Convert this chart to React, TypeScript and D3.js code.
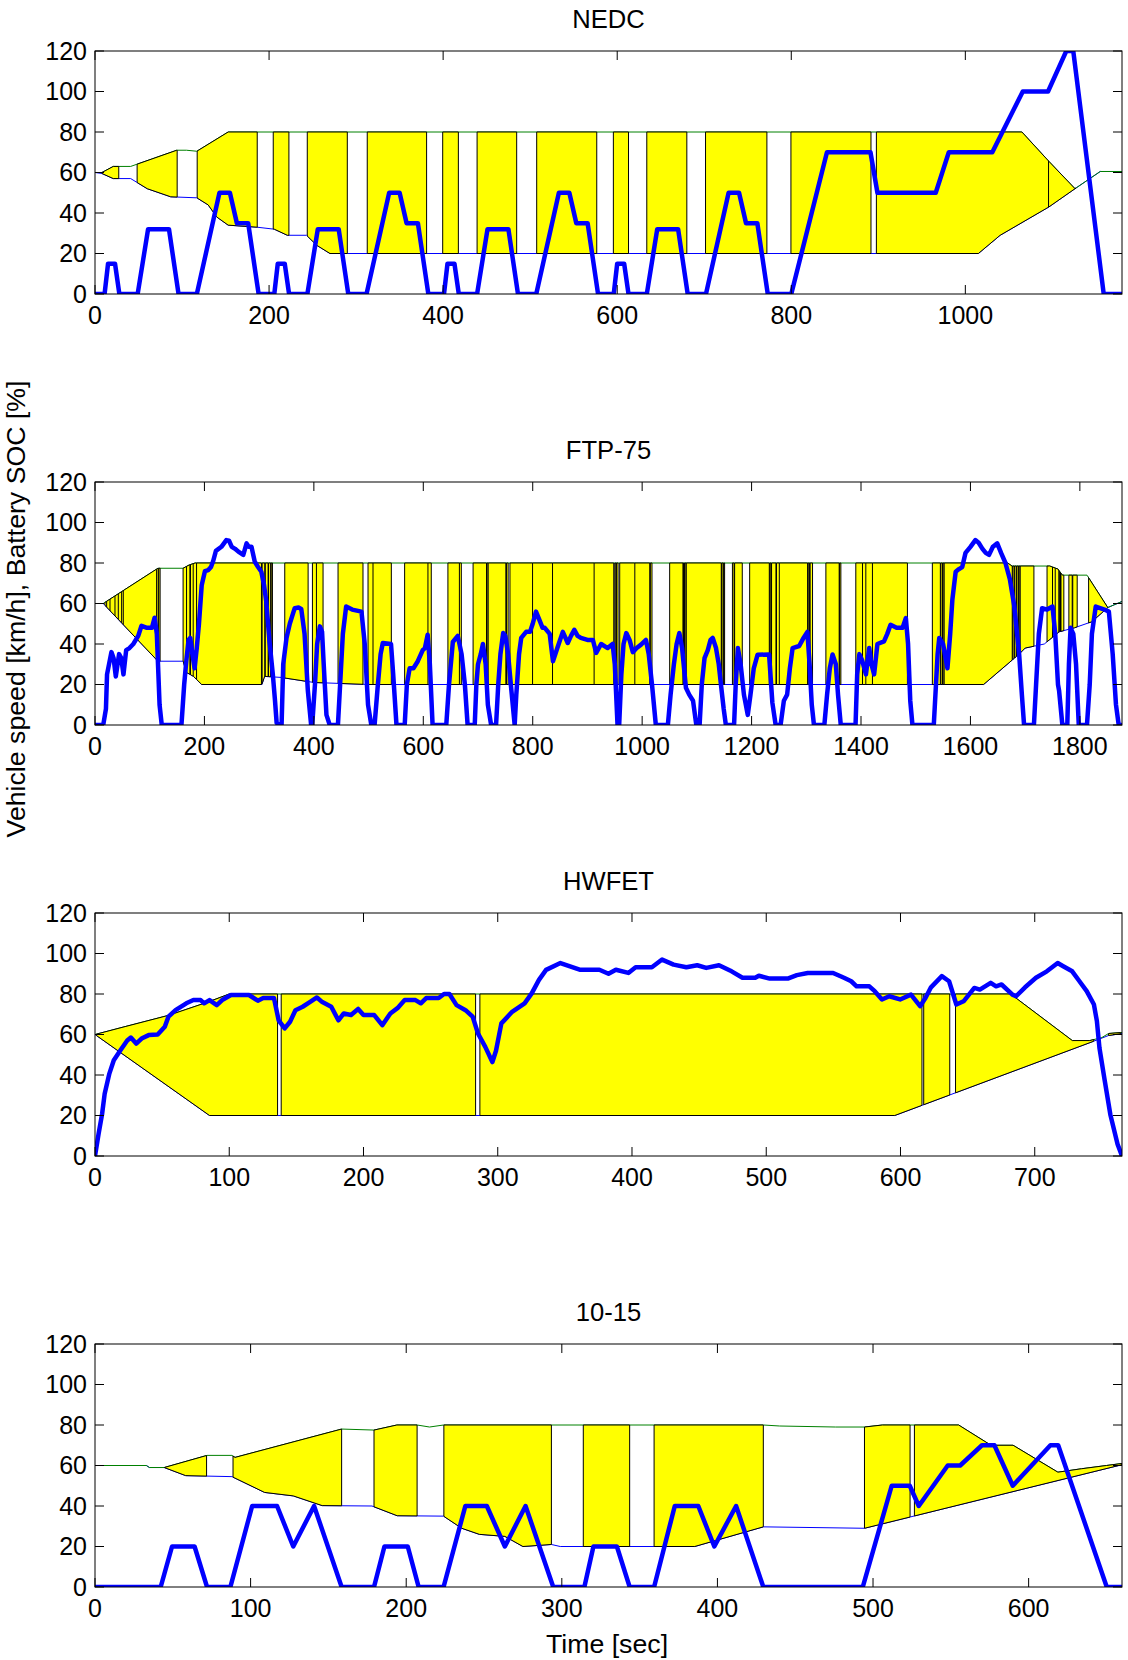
import React from "react";
import * as d3 from "d3";

type Pt = [number, number];
type Span = [number, number];

// ---- NEDC ----
const nedcSpeed: Pt[] = [
  [0, 0], [11, 0], [15, 15], [23, 15], [28, 0], [49, 0], [61, 32], [85, 32], [96, 0], [117, 0],
  [143, 50], [155, 50], [163, 35], [176, 35], [188, 0],
  [206, 0], [210, 15], [218, 15], [223, 0], [244, 0], [256, 32], [280, 32], [291, 0], [312, 0],
  [338, 50], [350, 50], [358, 35], [371, 35], [383, 0],
  [401, 0], [405, 15], [413, 15], [418, 0], [439, 0], [451, 32], [475, 32], [486, 0], [507, 0],
  [533, 50], [545, 50], [553, 35], [566, 35], [578, 0],
  [596, 0], [600, 15], [608, 15], [613, 0], [634, 0], [646, 32], [670, 32], [681, 0], [702, 0],
  [728, 50], [740, 50], [748, 35], [761, 35], [773, 0],
  [800, 0], [841, 70], [891, 70], [899, 50], [966, 50], [981, 70], [1031, 70], [1066, 100],
  [1095, 100], [1116, 120], [1124, 120], [1159, 0], [1180, 0],
];
const nedcUpper: Pt[] = [
  [0, 60], [8, 60], [21, 63], [41, 63], [94, 71], [105, 71], [117, 70.5], [153, 80],
  [1065, 80], [1096, 65.5], [1126, 52], [1155, 60.5], [1180, 60.5],
];
const nedcLower: Pt[] = [
  [0, 60], [8, 59.5], [21, 57], [41, 57], [60, 52], [87, 48], [117, 47.5], [130, 44], [140, 38],
  [153, 34], [186, 33], [206, 32], [221, 29], [243, 29], [255, 24], [270, 20], [1015, 20],
  [1040, 29], [1096, 43], [1126, 52], [1155, 60.5], [1180, 60.5],
];
const nedcFills: Span[] = [
  [8, 27.3], [48.4, 94.4], [117.4, 186.4], [204.8, 222.8], [243.9, 289.9], [312.8, 381],
  [399.5, 417.5], [439, 484.5], [507.5, 576.5], [595.6, 613], [634, 680], [701.5, 772],
  [799.6, 891.6], [897.8, 1095.6], [1095.6, 1127],
];
const nedcTicks = [0, 200, 400, 600, 800, 1000];

// ---- FTP-75 ----
const ftpSpeed: Pt[] = [
  [0, 0], [15, 0], [20, 8], [22, 25], [30, 36], [34, 33], [38, 24], [44, 35], [48, 33], [52, 25],
  [57, 37], [63, 38], [70, 40], [79, 44], [85, 49], [95, 48], [104, 48], [109, 53], [113, 45],
  [118, 10], [122, 0], [158, 0], [163, 20], [167, 32], [171, 42], [174, 43], [178, 35], [182, 28],
  [186, 38], [190, 50], [195, 69], [201, 76], [207, 76.5], [212, 78], [216, 81], [221, 86],
  [231, 88], [240, 91.3], [245, 91], [250, 88], [256, 87], [262, 85.6], [271, 84], [277, 89.7],
  [281, 88], [286, 88], [292, 80.6], [298, 78], [304, 75.7], [309, 69], [313, 61], [319, 41],
  [325, 25], [329, 12], [332, 1], [341, 0], [344, 30], [350, 43], [356, 50], [365, 57.7],
  [372, 58], [377, 57.3], [383, 45], [389, 17], [395, 0], [397, 0], [402, 20], [406, 40],
  [411, 48.7], [415, 46], [418, 30], [423, 5], [429, 0], [444, 0], [448, 20], [453, 45],
  [459, 58.5], [470, 57], [487, 56], [493, 40], [499, 10], [505, 0], [511, 0], [517, 20],
  [522, 35], [526, 40.5], [541, 40], [545, 25], [551, 0], [566, 0], [570, 20], [575, 28],
  [582, 28], [590, 31.5], [599, 37], [603, 38], [608, 44.6], [612, 30], [617, 0], [642, 0],
  [647, 20], [654, 41], [663, 44], [670, 35], [676, 20], [681, 0], [694, 0], [697, 20],
  [700, 30], [705, 35], [709, 40], [714, 30], [718, 10], [724, 0], [733, 0], [737, 20],
  [741, 35], [746, 45.4], [750, 44], [755, 35], [760, 20], [767, 0], [770, 15], [775, 35],
  [779, 43], [788, 46], [795, 46], [800, 50], [806, 56], [812, 52], [818, 48], [822, 48],
  [831, 45], [837, 31.5], [845, 38], [855, 46], [864, 40.5], [870, 44], [876, 47], [882, 44],
  [888, 43], [900, 42], [910, 42], [916, 35.6], [925, 40], [937, 38], [946, 40], [950, 30],
  [955, 0], [958, 0], [962, 25], [966, 40], [971, 45.4], [977, 42], [983, 36], [990, 38],
  [998, 39.7], [1007, 42], [1012, 35], [1018, 20], [1025, 0], [1047, 0], [1052, 15],
  [1058, 30], [1063, 40], [1068, 45.4], [1073, 38], [1080, 18.4], [1086, 15], [1093, 12],
  [1099, 0], [1105, 0], [1109, 20], [1114, 33], [1120, 37], [1125, 42], [1129, 43], [1135, 38],
  [1140, 30], [1144, 20], [1149, 8], [1153, 0], [1168, 0], [1171, 20], [1175, 38], [1180, 30],
  [1186, 15], [1193, 5], [1198, 15], [1204, 28], [1211, 34.7], [1232, 34.8], [1238, 11],
  [1244, 0], [1253, 0], [1259, 12], [1265, 15], [1270, 28], [1275, 38], [1287, 39], [1295, 43],
  [1302, 46], [1306, 30], [1310, 10], [1314, 0], [1333, 0], [1338, 15], [1343, 28],
  [1348, 34.8], [1354, 30], [1358, 15], [1363, 0], [1390, 0], [1393, 25], [1397, 35],
  [1402, 32], [1409, 25], [1415, 38], [1419, 30], [1424, 25], [1430, 40], [1442, 41.3],
  [1448, 45], [1454, 49.5], [1465, 48], [1476, 48], [1482, 52.8], [1486, 40], [1490, 12],
  [1494, 0], [1533, 0], [1537, 20], [1540, 35], [1543, 43], [1550, 40], [1558, 28], [1563, 45],
  [1567, 62], [1573, 75.7], [1579, 77], [1585, 78], [1591, 85], [1600, 88], [1609, 91.3],
  [1615, 90], [1622, 87], [1628, 85], [1634, 84], [1641, 88], [1649, 89.7], [1656, 85],
  [1664, 80], [1672, 72], [1680, 59], [1689, 35], [1694, 15], [1698, 0], [1716, 0], [1720, 20],
  [1725, 45], [1731, 57.7], [1740, 57], [1750, 58.5], [1755, 45], [1760, 20], [1762, 17],
  [1768, 0], [1777, 0], [1780, 30], [1783, 48], [1788, 45], [1793, 30], [1798, 0], [1813, 0],
  [1818, 20], [1822, 45], [1829, 58.5], [1845, 57], [1853, 56], [1860, 35], [1866, 10],
  [1871, 0], [1877, 0],
];
const ftpUpper: Pt[] = [
  [0, 60], [15, 60], [115, 77.4], [161, 77.4], [172, 79], [183, 80], [1668, 80], [1676, 78.5],
  [1745, 78.5], [1760, 77], [1768, 74], [1813, 74], [1851, 58], [1877, 61],
];
const ftpLower: Pt[] = [
  [0, 60], [15, 60], [115, 31.5], [161, 31.5], [167, 26], [180, 24], [195, 20], [305, 20],
  [310, 24], [340, 23.5], [400, 21], [500, 20], [1624, 20], [1689, 35], [1700, 38], [1735, 40],
  [1762, 46], [1790, 48], [1822, 51], [1851, 58], [1877, 61],
];
const ftpFills: Span[] = [
  [18, 21.3], [21.3, 27.4], [27.4, 36.5], [36.5, 42.6], [42.6, 48.7], [48.7, 51.7], [51.7, 112.6],
  [112.6, 115.5], [116.5, 119], [161, 167.3], [167.3, 173.4], [174.5, 179.5], [179.5, 185.6],
  [185.6, 304.2], [305.5, 310.3], [311.2, 316.4], [317.2, 321], [322, 324.3], [346.8, 389.5],
  [397.4, 404.7], [404.7, 416.8], [444.2, 489.8], [499, 508.1], [508.1, 541.6], [565.9, 608.5],
  [608.5, 614.6], [645, 666], [666, 669.5], [691, 715.6], [716.5, 718.6], [718.6, 750.9],
  [752, 755.1], [758.4, 799.7], [799.7, 836.2], [836.2, 912.2], [912.2, 948.1], [950, 952],
  [953, 956], [959, 986.6], [986.6, 1013.9], [1015, 1018], [1050.3, 1074.6], [1075.5, 1077.5],
  [1078.5, 1080.7], [1080.7, 1144.6], [1145.5, 1148], [1149, 1150.7], [1165, 1168],
  [1169, 1183], [1196.5, 1232.4], [1233.5, 1235.4], [1236.5, 1244.6], [1245.5, 1250.7],
  [1250.7, 1302.4], [1303.5, 1306], [1307, 1311.4], [1335.8, 1360.1], [1361, 1363.2],
  [1390.5, 1402.7], [1402.7, 1408.8], [1408.8, 1420.9], [1420.9, 1484.8], [1530.4, 1545],
  [1546, 1549], [1550, 1552], [1552, 1676.4], [1677.5, 1680], [1681, 1684], [1685, 1688],
  [1689, 1691], [1691, 1716], [1740, 1750], [1750, 1755], [1755, 1761.6], [1762.5, 1764.6],
  [1765.5, 1770.7], [1779.9, 1786], [1787, 1795.1], [1816, 1851],
];
const ftpTicks = [0, 200, 400, 600, 800, 1000, 1200, 1400, 1600, 1800];

// ---- HWFET ----
const hwySpeed: Pt[] = [
  [0, 0], [2.7, 11], [5.3, 20.8], [7.2, 30.7], [10.7, 40.7], [14, 47.3], [18.7, 52], [24, 57],
  [26.7, 58.5], [30.7, 55.5], [34.7, 58], [40, 59.7], [46.7, 60], [52, 63.8], [54.7, 68.8],
  [60, 72], [68, 75.4], [73.3, 77], [78.7, 77], [81.3, 75.4], [85.3, 77], [90.7, 74.5],
  [94.7, 77], [101.3, 79.5], [114.7, 79.5], [121.3, 76.7], [125.3, 78], [133.3, 78],
  [136.8, 67], [141.3, 63], [145.3, 66.3], [149.3, 72], [154.7, 73.7], [160, 76], [165.3, 78.3],
  [169.3, 76], [176, 73.7], [181.3, 67], [185.3, 70.4], [190.7, 69.6], [196, 72.6], [200, 69.6],
  [208, 69.6], [214, 64.6], [220, 70.4], [225.3, 73], [230.7, 77], [238.7, 77], [242.7, 75.4],
  [246.7, 78], [256, 78], [260, 80], [264, 80], [269.3, 74.5], [276, 72], [281.3, 68.8],
  [285.3, 60.5], [290.7, 53.9], [296, 46.4], [298.7, 52], [302.7, 65.5], [310.7, 71.2],
  [320, 75.4], [325.3, 80.3], [330.7, 87], [336, 91.9], [346.7, 95.3], [361, 92], [375.7, 92],
  [382.5, 90], [388, 92], [397.3, 90.4], [402.7, 93.2], [414.8, 93.2], [422.4, 97], [431, 94.5],
  [440.5, 93.2], [448.6, 94.2], [455.3, 92.9], [464.8, 94.2], [474.2, 91.2], [482.3, 88],
  [491.8, 88], [494.5, 89], [502.6, 87.6], [516, 87.6], [522.8, 89.3], [530.9, 90.4],
  [549.8, 90.4], [557.9, 88], [563.3, 86.3], [567.3, 83.8], [576.8, 83.8], [580.8, 81.4],
  [586.2, 77.3], [591.6, 78.9], [599.7, 77.3], [607.8, 79.7], [614.6, 74], [618.6, 78],
  [622.7, 83.3], [630.8, 88.8], [636.2, 86.3], [641.6, 74.8], [647, 76.4], [655, 83],
  [659.1, 82.2], [667.2, 85.5], [671.2, 83.8], [675.3, 84.7], [683.4, 79.7], [686.1, 78.9],
  [692.8, 83.3], [700.9, 88], [709, 91.2], [717.1, 95.3], [721.2, 93.7], [727.9, 91.2],
  [733.3, 86.3], [738.7, 81.4], [744.1, 74.8], [746.3, 66.6], [748.2, 53.4], [752.2, 37],
  [756.3, 20.5], [761.7, 5.8], [765, 0],
];
const hwyUpper: Pt[] = [
  [0, 60], [23, 64], [55, 69.5], [84, 76], [100, 80], [682, 80], [728, 57], [741, 57],
  [750, 58.5], [755, 60.5], [765, 61],
];
const hwyLower: Pt[] = [
  [0, 60], [85.3, 20], [595.7, 20], [744, 56.7], [755, 59.5], [765, 60.5],
];
const hwyFills: Span[] = [
  [1, 136], [138.7, 283.5], [286.7, 616], [617.3, 636.7], [641, 744], [755, 764],
];
const hwyTicks = [0, 100, 200, 300, 400, 500, 600, 700];

// ---- 10-15 ----
const jpSpeed: Pt[] = [
  [0, 0], [42.2, 0], [49.5, 20], [64, 20], [72, 0], [87, 0], [101, 40], [117, 40], [127.4, 20],
  [140.8, 40], [158.5, 0], [179.3, 0], [186, 20], [201, 20], [208, 0], [224, 0], [238, 40],
  [251.8, 40], [263.4, 20], [276.7, 40], [294.5, 0], [314.5, 0], [320.3, 20], [335.4, 20],
  [343.6, 0], [359.3, 0], [372.6, 40], [387.7, 40], [398, 20], [412, 40], [429.5, 0],
  [493.4, 0], [512, 50], [523.6, 50], [529.4, 40], [548, 60], [556, 60], [570, 70], [578, 70],
  [589.8, 50], [614, 70], [619, 70], [650.2, 0], [660, 0],
];
const jpUpper: Pt[] = [
  [0, 60], [33, 60], [35, 59], [44.5, 59], [72, 65], [88, 65], [90, 64], [158.5, 78],
  [179.3, 77.5], [194, 80], [207, 80], [215, 79], [224, 80], [429.5, 80], [440, 79.5], [476, 79],
  [494.5, 79], [506, 80], [555, 80], [575.8, 70], [590, 70], [618.8, 56.7], [634, 58.4],
  [650, 60], [660, 61],
];
const jpLower: Pt[] = [
  [0, 60], [33, 60], [35, 59], [44.5, 59], [58.3, 55], [88, 54.5], [109, 46.7], [127.4, 45],
  [146, 40.2], [178, 40], [194.2, 35.2], [224, 35], [235.7, 29], [247, 26], [263.4, 25],
  [275, 20], [293.3, 21], [299, 20], [385.4, 20], [429.5, 29.7], [494.5, 29], [660, 60.4],
];
const jpFills: Span[] = [
  [44.5, 71.7], [88.7, 158.5], [179.3, 207], [224.2, 293.3], [313.8, 343.6], [359.3, 429.5],
  [494.5, 523.8], [526.6, 660],
];
const jpTicks = [0, 100, 200, 300, 400, 500, 600];

const yTicks = [0, 20, 40, 60, 80, 100, 120];

const W = 1128;
const H = 1660;
const LEFT = 95;
const RIGHT = 1122;
const PLOT_H = 243;
const TICK = 9;
const FONT = "'Liberation Sans', Arial, Helvetica, sans-serif";
const FS = 25;

type PanelProps = {
  id: string;
  title: string;
  duration: number;
  top: number;
  xTicks: number[];
  speed: Pt[];
  upper: Pt[];
  lower: Pt[];
  fills: Span[];
};

const Panel = ({ id, title, duration, top, xTicks, speed, upper, lower, fills }: PanelProps) => {
  const bottom = top + PLOT_H;
  const x = d3.scaleLinear().domain([0, duration]).range([LEFT, RIGHT]);
  const y = d3.scaleLinear().domain([0, 120]).range([bottom, top]);
  const line = d3.line<Pt>().x((d) => x(d[0])).y((d) => y(d[1]));

  // window between the upper and lower SOC limits
  const band = line([...upper, ...lower.slice().reverse()]) + "Z";
  const edges = Array.from(new Set(fills.flat()));

  return (
    <g>
      <defs>
        <clipPath id={`plot-${id}`}>
          <rect x={LEFT} y={top} width={RIGHT - LEFT} height={PLOT_H} />
        </clipPath>
        <clipPath id={`fill-${id}`}>
          {fills.map(([a, b], i) => (
            <rect key={i} x={x(a)} y={top - 5} width={x(b) - x(a)} height={PLOT_H + 10} />
          ))}
        </clipPath>
        <clipPath id={`band-${id}`}>
          <path d={band} />
        </clipPath>
      </defs>

      <g clipPath={`url(#plot-${id})`}>
        <path d={line(lower) || ""} fill="none" stroke="#0000ff" strokeWidth={1} />
        <path d={line(upper) || ""} fill="none" stroke="#008000" strokeWidth={1} />
        <path
          d={band}
          fill="#ffff00"
          stroke="#000"
          strokeWidth={1}
          clipPath={`url(#fill-${id})`}
        />
        <g clipPath={`url(#band-${id})`}>
          {edges.map((t, i) => (
            <line key={i} x1={x(t)} x2={x(t)} y1={top} y2={bottom} stroke="#000" strokeWidth={1} />
          ))}
        </g>
        <path
          d={line(speed) || ""}
          fill="none"
          stroke="#0000ff"
          strokeWidth={4.5}
          strokeLinejoin="round"
          strokeLinecap="round"
        />
      </g>

      {/* axes box and inward ticks */}
      <rect x={LEFT} y={top} width={RIGHT - LEFT} height={PLOT_H} fill="none" stroke="#000" strokeWidth={1} />
      {xTicks.map((t) => (
        <g key={`x${t}`}>
          <line x1={x(t)} x2={x(t)} y1={bottom} y2={bottom - TICK} stroke="#000" />
          <line x1={x(t)} x2={x(t)} y1={top} y2={top + TICK} stroke="#000" />
          <text x={x(t)} y={bottom + 30} textAnchor="middle" fontSize={FS} fontFamily={FONT}>
            {t}
          </text>
        </g>
      ))}
      {yTicks.map((v) => (
        <g key={`y${v}`}>
          <line x1={LEFT} x2={LEFT + TICK} y1={y(v)} y2={y(v)} stroke="#000" />
          <line x1={RIGHT} x2={RIGHT - TICK} y1={y(v)} y2={y(v)} stroke="#000" />
          <text x={LEFT - 8} y={y(v)} dy="0.35em" textAnchor="end" fontSize={FS} fontFamily={FONT}>
            {v}
          </text>
        </g>
      ))}
      <text x={(LEFT + RIGHT) / 2} y={top - 23} textAnchor="middle" fontSize={25.6} fontFamily={FONT}>
        {title}
      </text>
    </g>
  );
};

export default function App() {
  return (
    <svg
      width={W}
      height={H}
      viewBox={`0 0 ${W} ${H}`}
      style={{ position: "absolute", left: 0, top: 0, display: "block", background: "#fff" }}
    >
      <rect width={W} height={H} fill="#fff" />
      <Panel id="nedc" title="NEDC" duration={1180} top={51} xTicks={nedcTicks}
        speed={nedcSpeed} upper={nedcUpper} lower={nedcLower} fills={nedcFills} />
      <Panel id="ftp" title="FTP-75" duration={1877} top={482} xTicks={ftpTicks}
        speed={ftpSpeed} upper={ftpUpper} lower={ftpLower} fills={ftpFills} />
      <Panel id="hwy" title="HWFET" duration={765} top={913} xTicks={hwyTicks}
        speed={hwySpeed} upper={hwyUpper} lower={hwyLower} fills={hwyFills} />
      <Panel id="jp" title="10-15" duration={660} top={1344} xTicks={jpTicks}
        speed={jpSpeed} upper={jpUpper} lower={jpLower} fills={jpFills} />
      <text
        transform="translate(25,609) rotate(-90)"
        textAnchor="middle"
        fontSize={26.7}
        fontFamily={FONT}
      >
        Vehicle speed [km/h], Battery SOC [%]
      </text>
      <text x={607} y={1653} textAnchor="middle" fontSize={26.7} fontFamily={FONT}>
        Time [sec]
      </text>
    </svg>
  );
}
